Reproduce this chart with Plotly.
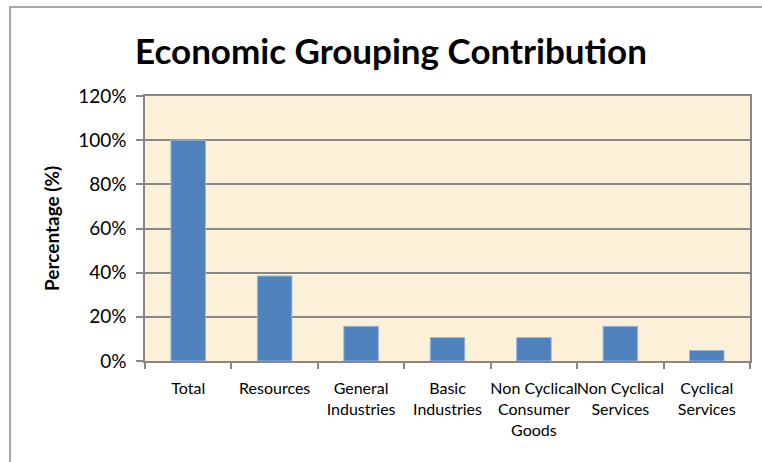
import plotly.graph_objects as go

categories = ["Total", "Resources", "General<br>Industries", "Basic<br>Industries",
              "Non Cyclical<br>Consumer<br>Goods", "Non Cyclical<br>Services", "Cyclical<br>Services"]
values = [1.00, 0.385, 0.157, 0.106, 0.106, 0.157, 0.048]
y_ticks = [0, 0.2, 0.4, 0.6, 0.8, 1.0, 1.2]

W, H = 762, 462
L, R, T, B = 145, 12, 96, 101
pw, ph = W - L - R, H - T - B

def px(x):
    return (x - L) / pw

def py(y):
    return (H - B - y) / ph

fig = go.Figure(go.Bar(
    x=categories, y=values,
    marker=dict(color="#4F81BD", line=dict(color="#9DB9DC", width=1)),
))

grid = "#878787"
fig.update_layout(
    width=W, height=H,
    margin=dict(l=L, r=R, t=T, b=B, autoexpand=False),
    paper_bgcolor="white",
    plot_bgcolor="#FDF0D8",
    bargap=0.6,
    showlegend=False,
    font=dict(family="Lato", color="#000000"),
    title=dict(text="<b>Economic Grouping Contribution</b>", font=dict(size=35, family="Lato", color="#000"),
               x=391 / W, xanchor="center", xref="container",
               y=1 - 52 / H, yanchor="middle", yref="container", automargin=False),
    xaxis=dict(showline=True, linecolor=grid, linewidth=1.5, mirror=True, automargin=False,
               ticks="outside", tickson="boundaries", ticklen=6, tickcolor=grid, tickwidth=1.5,
               tickangle=0,
               tickfont=dict(size=16, family="Lato"), ticklabelstandoff=12, showgrid=False),
    yaxis=dict(range=[0, 1.2], tickvals=y_ticks, tickformat=".0%", automargin=False,
               showline=True, linecolor=grid, linewidth=1.5, mirror=True,
               ticks="outside", ticklen=7, tickcolor=grid, tickwidth=1.5,
               showgrid=True, gridcolor=grid, gridwidth=1.5, zeroline=False,
               ticklabelstandoff=6,
               tickfont=dict(size=19, family="Lato")),
    annotations=[dict(text="<b>Percentage (%)</b>", textangle=-90, xref="paper", yref="paper",
                      x=px(51), y=py(229), xanchor="center", yanchor="middle", showarrow=False,
                      font=dict(size=19, family="Lato", color="#000"))],
    shapes=[dict(type="rect", xref="paper", yref="paper", x0=px(10), y0=py(480), x1=px(780), y1=py(7),
                 line=dict(color="#8C8C8C", width=1.5), fillcolor="rgba(0,0,0,0)", layer="below")],
)

fig.write_html("out.html")
